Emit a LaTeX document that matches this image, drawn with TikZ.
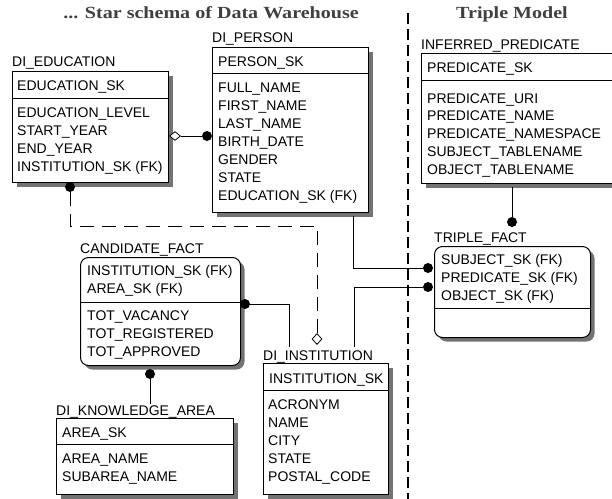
\documentclass[tikz,border=0pt]{standalone}
\usepackage{fontspec}
\setmainfont{Liberation Serif}
\setsansfont{Liberation Sans}
\usetikzlibrary{positioning, shadows, shapes.geometric}

\begin{document}
\begin{tikzpicture}[x=1pt, y=-1pt]
  \tikzset{%
    tbl/.style={rectangle, draw=black, fill=white, line width=1pt, inner sep=0pt, anchor=north west,
      drop shadow={shadow xshift=4pt, shadow yshift=-4pt, fill=black!55, opacity=1}},
    fact/.style={tbl, rounded corners=8pt},
    field/.style={anchor=base west, inner sep=0pt, font=\sffamily\fontsize{14}{17}\selectfont},
    heading/.style={anchor=base, inner sep=0pt, text=black!75, font=\bfseries\fontsize{17}{20}\selectfont, xscale=1.18},
    dot/.style={circle, fill=black, inner sep=0pt, minimum size=10pt},
    hollow/.style={diamond, draw=black, fill=white, line width=0.8pt, inner sep=0pt, minimum width=11pt, minimum height=9pt},
    rel/.style={draw=black, line width=1pt},
    optrel/.style={rel, dash pattern=on 14pt off 8pt}
  }
  \useasboundingbox (0,0) rectangle (612,498);

  % headings and separator
  \node[heading] (star-title) at (211,18) {... Star schema of Data Warehouse};
  \node[heading] (triple-title) at (512,18) {Triple Model};
  \coordinate (sep-top) at (408,13);
  \coordinate (sep-bot) at (408,500);
  \draw[line width=2.2pt, dash pattern=on 11pt off 5pt] (sep-top) -- (sep-bot);

  % DI_EDUCATION
  \node[field] (edu-name) at (12,66) {DI\_EDUCATION};
  \node[tbl, minimum width=156pt, minimum height=111pt] (edu) at (12,71) {};
  \draw (edu.north west) ++(0,27) -- ++(156,0);
  \node[field] (edu-key) at (17,90) {EDUCATION\_SK};
  \foreach \f [count=\i from 0] in {EDUCATION\_LEVEL, START\_YEAR, END\_YEAR, {INSTITUTION\_SK (FK)}}
    \node[field] (edu-\i) at (17,{117+18*\i}) {\f};

  % DI_PERSON
  \node[field] (person-name) at (212,42) {DI\_PERSON};
  \node[tbl, minimum width=156pt, minimum height=165pt] (person) at (212,47) {};
  \draw (person.north west) ++(0,26) -- ++(156,0);
  \node[field] (person-key) at (218,66) {PERSON\_SK};
  \foreach \f [count=\i from 0] in {FULL\_NAME, FIRST\_NAME, LAST\_NAME, BIRTH\_DATE, GENDER, STATE, {EDUCATION\_SK (FK)}}
    \node[field] (person-\i) at (218,{92+18*\i}) {\f};

  % INFERRED_PREDICATE
  \node[field] (pred-name) at (421,49) {INFERRED\_PREDICATE};
  \node[tbl, minimum width=195pt, minimum height=130pt] (pred) at (421,53) {};
  \draw (pred.north west) ++(0,27) -- ++(195,0);
  \node[field] (pred-key) at (427,72) {PREDICATE\_SK};
  \foreach \f [count=\i from 0] in {PREDICATE\_URI, PREDICATE\_NAME, PREDICATE\_NAMESPACE, SUBJECT\_TABLENAME, OBJECT\_TABLENAME}
    \node[field] (pred-\i) at (427,{103+17.8*\i}) {\f};

  % TRIPLE_FACT
  \node[field] (triple-name) at (434,242) {TRIPLE\_FACT};
  \node[fact, minimum width=156pt, minimum height=91pt] (triple) at (434,246) {};
  \draw (triple.north west) ++(0,62) -- ++(156,0);
  \foreach \f [count=\i from 0] in {{SUBJECT\_SK (FK)}, {PREDICATE\_SK (FK)}, {OBJECT\_SK (FK)}}
    \node[field] (triple-\i) at (441,{264+18*\i}) {\f};

  % CANDIDATE_FACT
  \node[field] (cand-name) at (80,253) {CANDIDATE\_FACT};
  \node[fact, minimum width=160pt, minimum height=108pt] (cand) at (80,257) {};
  \draw (cand.north west) ++(0,45) -- ++(160,0);
  \foreach \f [count=\i from 0] in {{INSTITUTION\_SK (FK)}, {AREA\_SK (FK)}}
    \node[field] (cand-k\i) at (87,{275+18*\i}) {\f};
  \foreach \f [count=\i from 0] in {TOT\_VACANCY, TOT\_REGISTERED, TOT\_APPROVED}
    \node[field] (cand-\i) at (87,{320+18*\i}) {\f};

  % DI_KNOWLEDGE_AREA
  \node[field] (area-name) at (56,415) {DI\_KNOWLEDGE\_AREA};
  \node[tbl, minimum width=177pt, minimum height=76pt] (area) at (56,418) {};
  \draw (area.north west) ++(0,26) -- ++(177,0);
  \node[field] (area-key) at (62,437) {AREA\_SK};
  \foreach \f [count=\i from 0] in {AREA\_NAME, SUBAREA\_NAME}
    \node[field] (area-\i) at (62,{463+18*\i}) {\f};

  % DI_INSTITUTION
  \node[field] (inst-name) at (263,360) {DI\_INSTITUTION};
  \node[tbl, minimum width=125pt, minimum height=131pt] (inst) at (263,363) {};
  \draw (inst.north west) ++(0,27) -- ++(125,0);
  \node[field] (inst-key) at (269,383) {INSTITUTION\_SK};
  \foreach \f [count=\i from 0] in {ACRONYM, NAME, CITY, STATE, POSTAL\_CODE}
    \node[field] (inst-\i) at (268,{409+18*\i}) {\f};

  % relationships
  \node[hollow] (edu-dia) at (175,136) {};
  \node[dot] (person-dot) at (207,136) {};
  \draw[rel] (edu-dia) -- (person-dot);

  \node[dot] (edu-dot) at (70,187) {};
  \coordinate (edu-bend) at (317,226);
  \node[hollow, minimum width=10pt, minimum height=11pt] (inst-dia) at (317,339) {};
  \draw[optrel] (edu-dot) |- (edu-bend) -- (inst-dia);

  \node[dot] (cand-dot) at (245,304) {};
  \coordinate (inst-in1) at (289,347);
  \draw[rel] (cand-dot) -| (inst-in1);

  \node[dot] (area-dot) at (150,374) {};
  \coordinate (area-in) at (150,404);
  \draw[rel] (area-dot) -- (area-in);

  \coordinate (person-out) at (353,216);
  \node[dot] (triple-dot1) at (428,268) {};
  \draw[rel] (person-out) |- (triple-dot1);

  \node[dot] (triple-dot2) at (428,287) {};
  \coordinate (inst-in2) at (354,347);
  \draw[rel] (triple-dot2) -| (inst-in2);

  \coordinate (pred-out) at (512,187);
  \node[dot] (triple-dot3) at (512,222) {};
  \draw[rel] (pred-out) -- (triple-dot3);
\end{tikzpicture}
\end{document}
